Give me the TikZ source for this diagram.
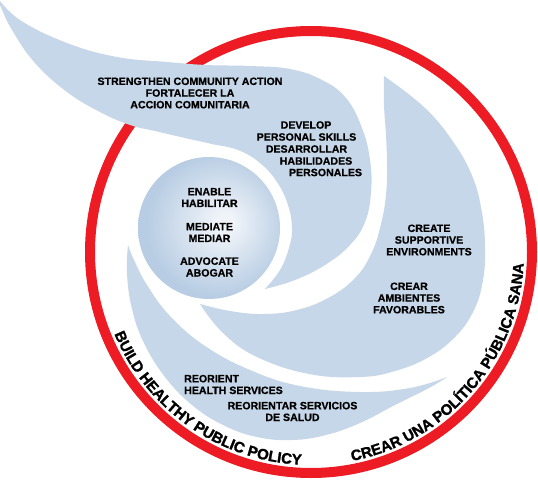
\documentclass[tikz,border=0pt]{standalone}
\usepackage{fontspec}
\setmainfont{Liberation Sans}[BoldFeatures={FakeBold=0.6}]
\newfontfamily\curvefam{Liberation Sans Bold}[FakeBold=1.4]
\usetikzlibrary{decorations.text}
\definecolor{armblue}{RGB}{197,215,232}
\definecolor{ringred}{RGB}{237,28,36}
\definecolor{balledge}{RGB}{184,205,227}
\definecolor{ballcore}{RGB}{240,244,249}
\pgfdeclareradialshading{ballshade}{\pgfpoint{6bp}{2bp}}{color(0bp)=(ballcore); color(3bp)=(ballcore); color(25bp)=(balledge); color(50bp)=(balledge)}
\newcommand{\curvefont}{\fontsize{15}{15}\selectfont\curvefam}
\begin{document}
\begin{tikzpicture}[x=1pt,y=1pt,
  lab/.style={font=\fontsize{10.6}{11.7}\selectfont\bfseries, align=center, inner sep=0pt, text=black},
  arm/.style={fill=armblue}]
\useasboundingbox (0,0) rectangle (538,480);
\fill[white] (0,0) rectangle (538,480);
% red ring
\draw[ringred, line width=10pt] (311,228) circle[radius=221];
\begin{scope}[shift={(0,480)}, yscale=-1]
% arm A: strengthen community action (tail)
\path[arm] plot[smooth, tension=0.7] coordinates {(-3,-3) (20,20) (67,43) (117,57) (167,62) (206,65) (250,66) (290,69) (322,80) (346,98) (362,128) (370,160) (371,192) (365,222) (350,245) (325,265) (295,280) (265,289)}
  -- plot[smooth, tension=0.7] coordinates {(265,289) (280,270) (289,248) (292,228) (288,205) (277,182) (260,163) (238,150) (212,144) (185,138) (155,131) (130,125) (100,112) (67,92) (35,63) (12,30) (0,5) (-3,-3)} -- cycle;
% arm B: create supportive environments
\path[arm] plot[smooth, tension=0.7] coordinates {(384,76) (425,108) (454,143) (473,178) (482,213) (485,247) (483,280) (474,310) (456,336) (429,357) (395,371) (360,377) (309,374) (257,357) (223,333) (200,304)}
  -- plot[smooth, tension=0.7] coordinates {(200,304) (230,311) (263,314) (297,310) (330,297) (356,277) (372,252) (381,224) (386,195) (387,165) (386,135) (384,105) (384,76)} -- cycle;
% arm C: reorient health services
\path[arm] plot[smooth, tension=0.7] coordinates {(128,245) (127,274) (132,309) (144,343) (165,377) (192,405) (223,425) (257,437) (292,440) (326,435) (360,423) (395,405) (429,388) (447,377)}
  -- plot[smooth, tension=0.7] coordinates {(447,377) (410,388) (360,392) (300,386) (250,370) (205,346) (170,316) (147,285) (134,260) (128,245)} -- cycle;
\end{scope}
% inner ball
\shade[shading=ballshade] (209,252) circle[radius=71];
\begin{scope}[shift={(0,480)}, yscale=-1]
\node[lab] (sca) at (190,93) {STRENGTHEN COMMUNITY ACTION\\FORTALECER LA\\ACCION COMUNITARIA};
\node[lab] (dev1) at (306,125) {DEVELOP};
\node[lab] (dev2) at (306.5,137) {PERSONAL SKILLS};
\node[lab] (dev3) at (306.5,149) {DESARROLLAR};
\node[lab] (dev4) at (316,161) {HABILIDADES};
\node[lab] (dev5) at (325.5,172.5) {PERSONALES};
\node[lab] (enable) at (209.5,197.5) {ENABLE\\HABILITAR};
\node[lab] (mediate) at (209.5,232.5) {MEDIATE\\MEDIAR};
\node[lab] (advocate) at (209.5,267) {ADVOCATE\\ABOGAR};
\node[lab] (cse) at (429,240) {CREATE\\SUPPORTIVE\\ENVIRONMENTS};
\node[lab] (caf) at (409,298) {CREAR\\AMBIENTES\\FAVORABLES};
\node[lab, align=left, anchor=west] (rhs) at (184,384.5) {REORIENT\\HEALTH SERVICES};
\node[lab] (rsds) at (292.5,411.5) {REORIENTAR SERVICIOS\\DE SALUD};
\end{scope}
% curved texts along ring
\path[decorate, decoration={text along path, text align=center,
  text={|\curvefont|BUILD HEALTHY PUBLIC POLICY}}]
  ([shift={(198:213)}]311,228) arc[start angle=198, end angle=272, radius=213];
\path[decorate, decoration={text along path, text align=center,
  text={|\curvefont|CREAR UNA POLÍTICA PÚBLICA SANA}}]
  ([shift={(277:213)}]311,228) arc[start angle=277, end angle=361, radius=213];
\end{tikzpicture}
\end{document}
